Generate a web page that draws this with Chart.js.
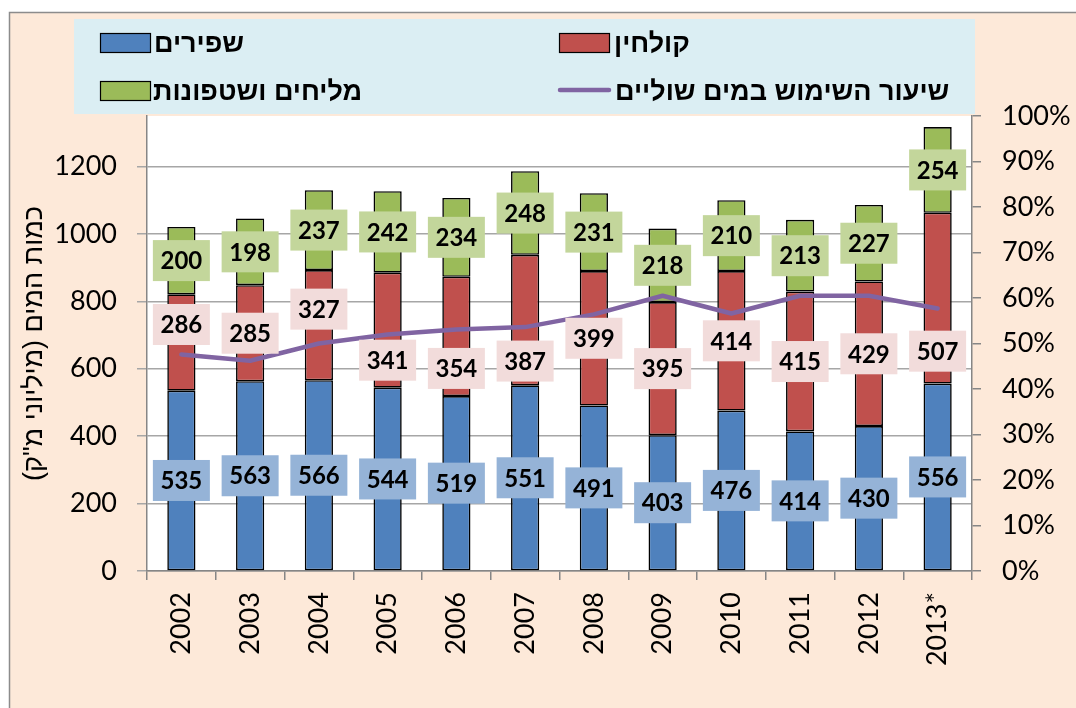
<!DOCTYPE html>
<html lang="he"><head><meta charset="utf-8">
<script src="https://cdn.jsdelivr.net/npm/chart.js@4.4.1/dist/chart.umd.min.js"></script>
<style>html,body{margin:0;padding:0;background:#fff;overflow:hidden}#wrap{width:1076px;height:708px;position:relative}canvas{display:block}</style>
</head><body><div id="wrap"><canvas id="c" width="1076" height="708"></canvas></div>
<script>
// ---- data ----
const years = ['2002','2003','2004','2005','2006','2007','2008','2009','2010','2011','2012','2013*'];
const freshwater = [535,563,566,544,519,551,491,403,476,414,430,556];      // שפירים
const effluents  = [286,285,327,341,354,387,399,395,414,415,429,507];      // קולחין
const brackish   = [200,198,237,242,234,248,231,218,210,213,227,254];      // מליחים ושטפונות
const marginalShare = [47.6,46.2,50.0,52.0,53.1,53.6,56.4,60.5,56.6,60.5,60.5,57.7]; // שיעור השימוש במים שוליים (%)
const seriesNames = ['שפירים','קולחין','מליחים ושטפונות','שיעור השימוש במים שוליים'];
const leftAxisTitle = 'כמות המים (מיליוני מ"ק)\u200F';
const leftTickStep = 200, leftAxisMax = 1350;
const rightTickStep = 10, rightAxisMax = 100;

// label placement tweaks (pixels) for the effluent labels, as moved in the original
const effluentLabelShift = [-18,0,-16,30,32,41,0,0,0,0,0,53];

const COL = {blue:'#4F81BD', red:'#C0504D', green:'#9BBB59', purple:'#8064A2',
  blueLbl:'#95B3D7', redLbl:'#F2DCDB', greenLbl:'#C3D69B'};
const TICKFONT = {family:'Lato, "Liberation Sans", sans-serif', size:27};

const bgPlugin = {
  id:'bg',
  beforeDraw(chart){
    const ctx = chart.ctx, a = chart.chartArea;
    ctx.save();
    ctx.fillStyle='#fff'; ctx.fillRect(0,0,1076,708);
    ctx.fillStyle='#FDE9D9'; ctx.fillRect(9,12,1080,710);
    ctx.strokeStyle='#8C8C8C'; ctx.lineWidth=1.5; ctx.strokeRect(9.5,12.5,1080,710);
    ctx.fillStyle='#fff'; ctx.fillRect(a.left,a.top,a.right-a.left,a.bottom-a.top);
    // legend
    ctx.fillStyle='#DBEEF3'; ctx.fillRect(74,19,901,95);
    ctx.font='bold 27px "Liberation Sans", Arial, sans-serif';
    ctx.textAlign='left'; ctx.textBaseline='alphabetic';
    const sw = (x,y,c)=>{ctx.fillStyle=c; ctx.fillRect(x,y,50,19); ctx.strokeStyle='#000'; ctx.lineWidth=1.2; ctx.strokeRect(x+0.5,y+0.5,50,19);};
    sw(100,33,COL.blue);  ctx.fillStyle='#000'; ctx.fillText(seriesNames[0],154,52);
    sw(559,33,COL.red);   ctx.fillStyle='#000'; ctx.fillText(seriesNames[1],614,52);
    sw(100,81,COL.green); ctx.fillStyle='#000'; ctx.fillText(seriesNames[2],153,100);
    ctx.strokeStyle=COL.purple; ctx.lineWidth=4.5; ctx.lineCap='round';
    ctx.beginPath(); ctx.moveTo(560,90); ctx.lineTo(609,90); ctx.stroke();
    ctx.fillStyle='#000'; ctx.fillText(seriesNames[3],615,100);
    ctx.restore();
  }
};

const labelBg = {fresh:COL.blueLbl, eff:COL.redLbl, brack:COL.greenLbl};
const labelPlugin = {
  id:'barLabels',
  afterDatasetsDraw(chart){
    const ctx = chart.ctx;
    ctx.save();
    ctx.font = 'bold 24px Lato, "Liberation Sans", sans-serif';
    ctx.textAlign='center'; ctx.textBaseline='middle';
    chart.data.datasets.forEach((ds,i)=>{
      if (ds.type==='line') return;
      const meta = chart.getDatasetMeta(i);
      meta.data.forEach((el,j)=>{
        const shift = ds.key==='eff' ? effluentLabelShift[j] : 0;
        const cy = (el.y+el.base)/2 + shift;
        const txt = String(ds.data[j]);
        const w = 57, h = 41;
        ctx.fillStyle = labelBg[ds.key];
        ctx.fillRect(el.x-w/2, cy-h/2, w, h);
        ctx.fillStyle = '#000';
        ctx.fillText(txt, el.x, cy+1);
      });
    });
    ctx.restore();
  }
};

const barCommon = {type:'bar', borderColor:'#000', borderWidth:1.6, borderSkipped:false,
  barPercentage:0.41, categoryPercentage:1, yAxisID:'y', order:1};

new Chart(document.getElementById('c'), {
  data:{
    labels: years,
    datasets:[
      {type:'line', label:seriesNames[3], data:marginalShare, yAxisID:'y1', borderColor:COL.purple,
        borderWidth:4.5, pointRadius:0, tension:0, order:0, borderCapStyle:'round', borderJoinStyle:'round'},
      Object.assign({key:'fresh', label:seriesNames[0], data:freshwater, backgroundColor:COL.blue}, barCommon),
      Object.assign({key:'eff', label:seriesNames[1], data:effluents, backgroundColor:COL.red}, barCommon),
      Object.assign({key:'brack', label:seriesNames[2], data:brackish, backgroundColor:COL.green}, barCommon)
    ]
  },
  options:{
    responsive:false, animation:false, devicePixelRatio:1,
    layout:{padding:{top:116,left:0,right:0,bottom:0}},
    plugins:{legend:{display:false}, tooltip:{enabled:false}},
    scales:{
      x:{stacked:true, offset:true,
        grid:{display:true, drawOnChartArea:false, drawTicks:true, tickLength:9, color:'#868686', lineWidth:1.5, offset:true},
        border:{display:true, color:'#868686', width:1.5},
        ticks:{minRotation:90, maxRotation:90, autoSkip:false, padding:12, font:TICKFONT, color:'#000'},
        afterFit:s=>{s.height=137;}
      },
      y:{stacked:true, position:'left', min:0, max:leftAxisMax,
        ticks:{stepSize:leftTickStep, includeBounds:false, padding:20, font:TICKFONT, color:'#000', callback:v=>String(v)},
        afterBuildTicks:s=>{s.ticks = s.ticks.filter(t=>t.value%leftTickStep===0);},
        grid:{color:'#A6A6A6', lineWidth:1.5, tickLength:10, drawTicks:true},
        border:{display:true, color:'#868686', width:1.5},
        title:{display:true, text:leftAxisTitle, color:'#000',
          font:{family:'"Liberation Sans", Arial, sans-serif', size:27}, padding:{top:18,bottom:0}},
        afterFit:s=>{s.width=147;}
      },
      y1:{position:'right', min:0, max:rightAxisMax,
        ticks:{stepSize:rightTickStep, padding:21, font:TICKFONT, color:'#000', callback:v=>v+'%'},
        grid:{drawOnChartArea:false, tickLength:9, color:'#868686', lineWidth:1.5},
        border:{display:true, color:'#868686', width:1.5},
        afterFit:s=>{s.width=104;}
      }
    }
  },
  plugins:[bgPlugin, labelPlugin]
});
</script></body></html>
